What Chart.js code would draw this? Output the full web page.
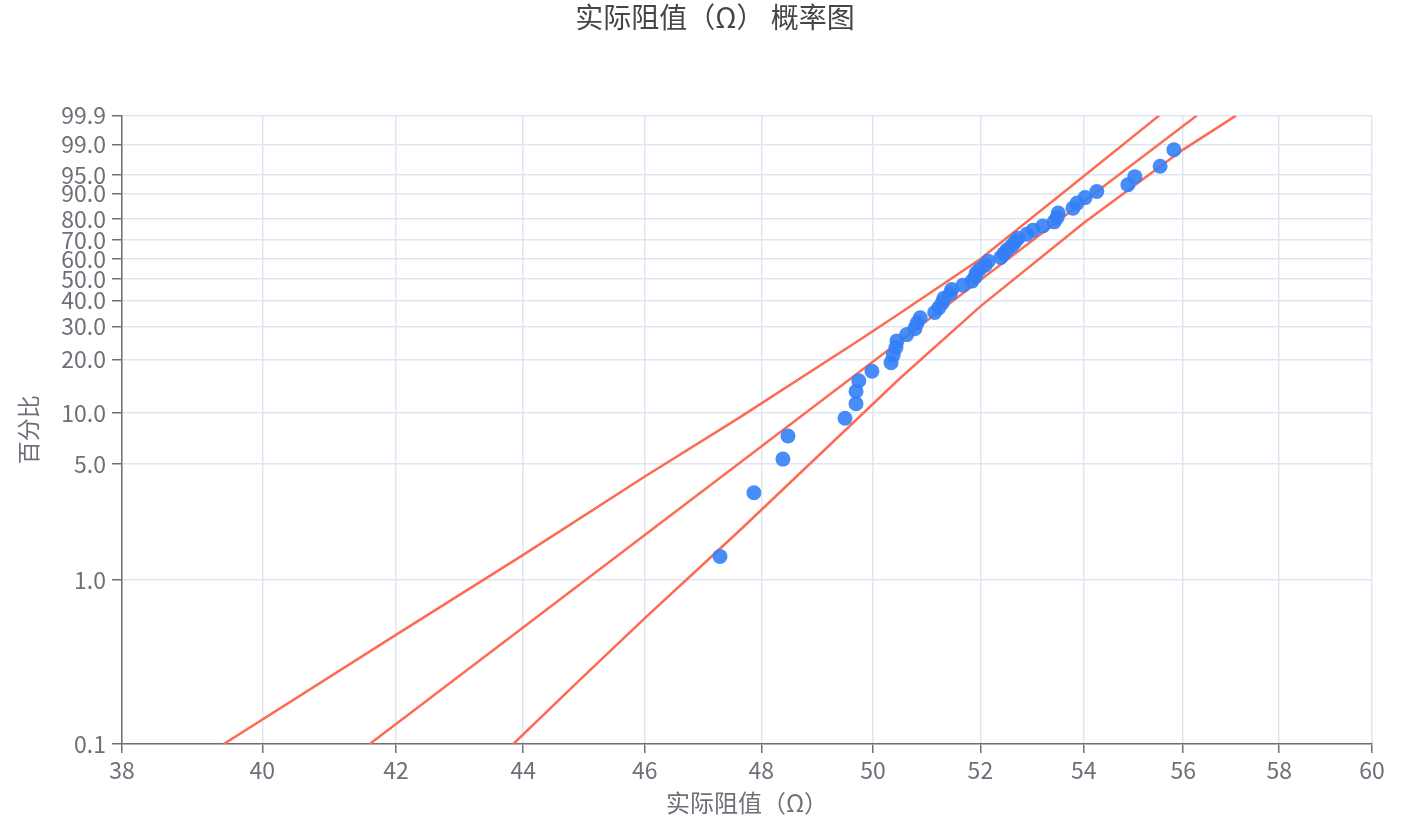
<!DOCTYPE html>
<html>
<head>
<meta charset="utf-8">
<title>实际阻值（Ω） 概率图</title>
<script src="https://cdn.jsdelivr.net/npm/chart.js@4.4.0/dist/chart.umd.min.js"></script>
<style>
  html, body { margin: 0; padding: 0; background: #fff; }
  #wrap { width: 1410px; height: 819px; }
</style>
</head>
<body>
<div id="wrap"><canvas id="myChart"></canvas></div>
<script>
// 测量值（Ω），已排序
const resistance = [47.28, 47.87, 48.38, 48.47, 49.49, 49.69, 49.69, 49.74, 49.98, 50.33,
  50.37, 50.42, 50.44, 50.62, 50.77, 50.81, 50.87, 51.14, 51.22, 51.28,
  51.31, 51.43, 51.46, 51.67, 51.84, 51.90, 51.92, 51.99, 52.09, 52.15,
  52.39, 52.45, 52.51, 52.60, 52.66, 52.72, 52.89, 53.01, 53.20, 53.42,
  53.48, 53.50, 53.79, 53.87, 54.03, 54.26, 54.88, 55.02, 55.53, 55.81];
// 累积百分比
const percent = [1.389, 3.373, 5.357, 7.341, 9.325, 11.31, 13.294, 15.278, 17.262, 19.246,
  21.23, 23.214, 25.198, 27.183, 29.167, 31.151, 33.135, 35.119, 37.103, 39.087,
  41.071, 43.056, 45.04, 47.024, 49.008, 50.992, 52.976, 54.96, 56.944, 58.929,
  60.913, 62.897, 64.881, 66.865, 68.849, 70.833, 72.817, 74.802, 76.786, 78.77,
  80.754, 82.738, 84.722, 86.706, 88.69, 90.675, 92.659, 94.643, 96.627, 98.611];

// 拟合线和置信区间
const fitX = [41.60, 56.28];
const fitP = [0.1, 99.9];
const upperX = [39.44, 42.00, 44.00, 46.00, 47.63, 49.76, 50.50, 52.00, 54.00, 55.51];
const upperP = [0.1, 0.463, 1.42, 4.22, 9.46, 25.55, 34.94, 60.11, 94.72, 99.9];
const lowerX = [43.84, 44.92, 46.00, 46.94, 47.63, 50.50, 52.00, 54.00, 56.00, 57.09];
const lowerP = [0.1, 0.246, 0.586, 1.20, 2.01, 15.82, 37.61, 78.26, 98.62, 99.9];

const xTicks = [38, 40, 42, 44, 46, 48, 50, 52, 54, 56, 58, 60];
const yTicks = [0.1, 1, 5, 10, 20, 30, 40, 50, 60, 70, 80, 90, 95, 99, 99.9];

// 概率纸坐标
const prob = p => Math.log(-Math.log(1 - p / 100));
const toPts = (xs, ps) => xs.map((x, i) => ({ x: x, y: prob(ps[i]) }));

const axisColor = '#6e7079';
const gridColor = '#e0e6f1';
const lineColor = '#ff6b52';
const fontFamily = '"Noto Sans CJK SC", "Noto Sans", sans-serif';

const lineSet = (data) => ({
  data: data,
  showLine: true,
  borderColor: lineColor,
  borderWidth: 2.5,
  pointRadius: 0,
  fill: false,
  order: 2,
});

const config = {
  type: 'scatter',
  data: {
    datasets: [
      {
        label: '实际阻值',
        data: toPts(resistance, percent),
        backgroundColor: 'rgba(52,128,246,0.9)',
        borderWidth: 0,
        pointRadius: 7.5,
        order: 1,
      },
      lineSet(toPts(fitX, fitP)),
      lineSet(toPts(upperX, upperP)),
      lineSet(toPts(lowerX, lowerP)),
    ]
  },
  options: {
    responsive: true,
    maintainAspectRatio: false,
    animation: false,
    layout: { padding: { left: 20, right: 0, top: 0, bottom: 0 } },
    scales: {
      x: {
        type: 'logarithmic',
        min: 38,
        max: 60,
        afterBuildTicks: axis => { axis.ticks = xTicks.map(v => ({ value: v })); },
        afterFit: axis => { axis.height = 75; },
        ticks: {
          autoSkip: false,
          maxRotation: 0,
          padding: 3,
          color: axisColor,
          font: { family: fontFamily, size: 23 },
          callback: (v, i) => String(xTicks[i]),
        },
        grid: { color: gridColor, lineWidth: 1.5, tickColor: axisColor, tickLength: 9 },
        border: { color: axisColor, width: 1.5 },
        title: {
          display: true,
          text: '实际阻值（Ω）',
          color: axisColor,
          font: { family: fontFamily, size: 24 },
          padding: { top: 0, bottom: 2 },
        },
      },
      y: {
        type: 'linear',
        min: prob(0.1),
        max: prob(99.9),
        afterBuildTicks: axis => { axis.ticks = yTicks.map(p => ({ value: prob(p) })); },
        afterFit: axis => { axis.width = 102; },
        ticks: {
          autoSkip: false,
          padding: 6,
          color: axisColor,
          font: { family: fontFamily, size: 23 },
          callback: (v, i) => yTicks[i].toFixed(1),
        },
        grid: { color: gridColor, lineWidth: 1.5, tickColor: axisColor, tickLength: 10 },
        border: { color: axisColor, width: 1.5 },
        title: {
          display: true,
          text: '百分比',
          color: axisColor,
          font: { family: fontFamily, size: 23, lineHeight: 0.7 },
          padding: { top: 0, bottom: 0 },
        },
      },
      // 右侧留白
      y2: {
        type: 'linear',
        position: 'right',
        display: true,
        afterFit: axis => { axis.width = 38; },
        grid: { display: false },
        border: { display: false },
        ticks: { display: false },
      },
    },
    plugins: {
      legend: { display: false },
      tooltip: { enabled: false },
      title: {
        display: true,
        text: '实际阻值（Ω） 概率图',
        color: '#464646',
        font: { family: fontFamily, size: 28, weight: 'normal' },
        padding: { top: 1, bottom: 81 },
      },
    },
  },
};

var ctx = document.getElementById('myChart').getContext('2d');
var myChart = new Chart(ctx, config);
</script>
</body>
</html>
